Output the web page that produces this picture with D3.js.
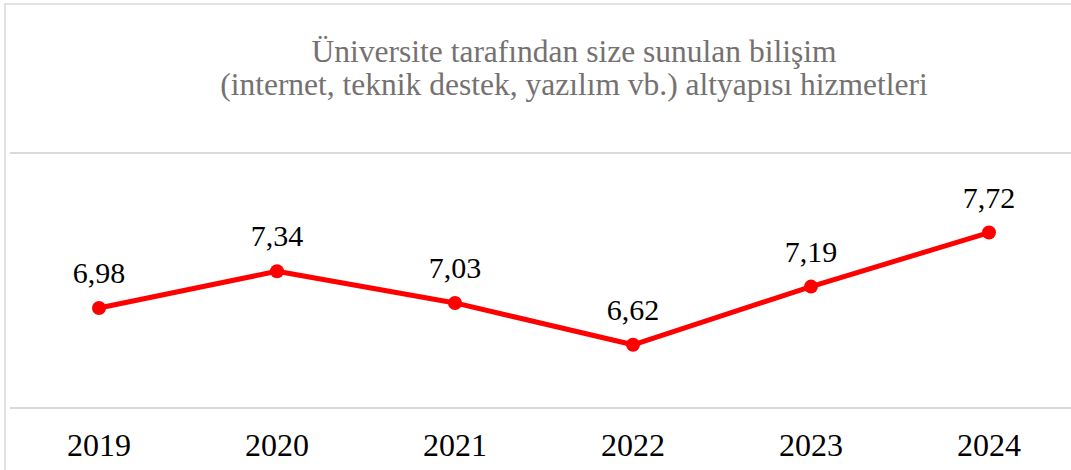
<!DOCTYPE html>
<html>
<head>
<meta charset="utf-8">
<script src="https://cdn.jsdelivr.net/npm/d3@7"></script>
<style>
  body { margin: 0; background: #fff; }
</style>
</head>
<body>
<svg id="chart" width="1071" height="470"></svg>
<script>
var years = ['2019', '2020', '2021', '2022', '2023', '2024'];
var scores = [6.98, 7.34, 7.03, 6.62, 7.19, 7.72];
var gridValues = [6, 8.5];
var titleLines = [
  'Üniversite tarafından size sunulan bilişim',
  '(internet, teknik destek, yazılım vb.) altyapısı hizmetleri'
];

var serif = "'Liberation Serif', 'Times New Roman', serif";

var svg = d3.select('#chart');

// chart frame (runs off the right edge like the original)
svg.append('rect')
  .attr('x', 5).attr('y', 4)
  .attr('width', 1140).attr('height', 480)
  .attr('fill', '#fff')
  .attr('stroke', '#d9d9d9')
  .attr('stroke-width', 1.5);

var x = d3.scaleBand()
  .domain(years)
  .range([10, 1078]);

var y = d3.scaleLinear()
  .domain([6, 8.5])
  .range([408, 153]);

svg.append('g')
  .selectAll('line')
  .data(gridValues)
  .enter().append('line')
  .attr('x1', 10).attr('x2', 1140)
  .attr('y1', function(d) { return y(d); })
  .attr('y2', function(d) { return y(d); })
  .attr('stroke', '#d9d9d9')
  .attr('stroke-width', 2);

// x axis labels via d3 axis
var xAxis = svg.append('g')
  .attr('transform', 'translate(0,' + y(6) + ')')
  .call(d3.axisBottom(x).tickSize(0).tickPadding(25));
xAxis.attr('font-family', serif).attr('font-size', 32);
xAxis.select('.domain').remove();
xAxis.selectAll('text')
  .attr('fill', '#000');

var title = svg.append('text')
  .attr('text-anchor', 'middle')
  .attr('fill', '#757171')
  .attr('font-family', serif)
  .attr('font-size', 31.5);
title.selectAll('tspan')
  .data(titleLines)
  .enter().append('tspan')
  .attr('x', 574)
  .attr('y', function(d, i) { return 62 + i * 33; })
  .text(function(d) { return d; });

var pts = years.map(function(yr, i) { return { year: yr, v: scores[i] }; });
var cx = function(d) { return x(d.year) + x.bandwidth() / 2; };

svg.append('path')
  .datum(pts)
  .attr('fill', 'none')
  .attr('stroke', '#ff0000')
  .attr('stroke-width', 5)
  .attr('stroke-linejoin', 'round')
  .attr('d', d3.line().x(cx).y(function(d) { return y(d.v); }));

svg.selectAll('.dot')
  .data(pts)
  .enter().append('circle')
  .attr('class', 'dot')
  .attr('cx', cx)
  .attr('cy', function(d) { return y(d.v); })
  .attr('r', 7)
  .attr('fill', '#ff0000');

var fmt = function(v) { return v.toFixed(2).replace('.', ','); };
svg.selectAll('.lbl')
  .data(pts)
  .enter().append('text')
  .attr('class', 'lbl')
  .attr('x', cx)
  .attr('y', function(d) { return y(d.v) - 25; })
  .attr('text-anchor', 'middle')
  .attr('font-family', serif)
  .attr('font-size', 30)
  .attr('fill', '#000')
  .text(function(d) { return fmt(d.v); });
</script>
</body>
</html>
